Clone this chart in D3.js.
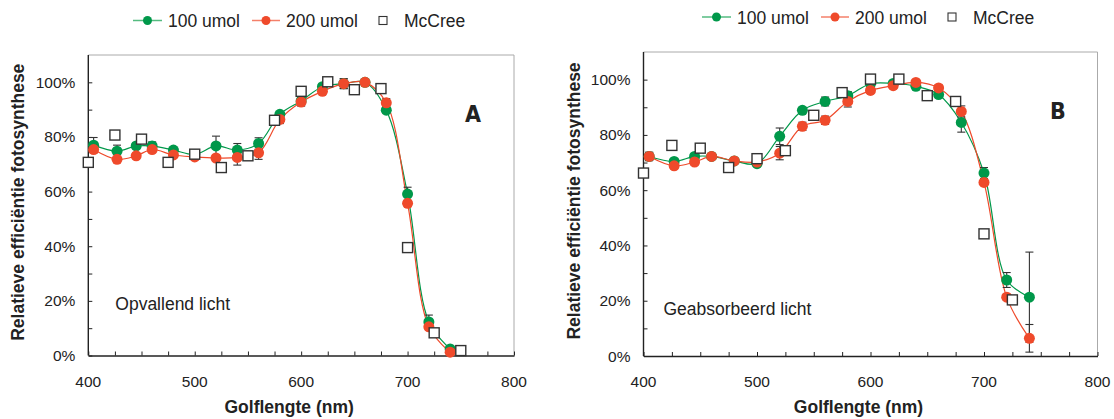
<!DOCTYPE html>
<html><head><meta charset="utf-8">
<script src="https://cdn.jsdelivr.net/npm/d3@7"></script>
<style>body{margin:0;background:#fff}svg{display:block;font-family:"Liberation Sans",Arial,sans-serif}</style>
</head><body><svg id="c" width="1114" height="419"></svg>
<script>
// ---- data ----
const wavelengths = [405, 427, 445, 460, 480, 500, 520, 540, 560, 580, 600, 620, 640, 660, 680, 700, 720, 740];
const mccreeWlA = [400, 425, 450, 475, 500, 525, 550, 575, 600, 625, 650, 675, 700, 725, 750];
const mccreeWlB = [400, 425, 450, 475, 500, 525, 550, 575, 600, 625, 650, 675, 700, 725];

const greenA = [77, 74.8, 76.7, 76.7, 75.2, 73.6, 76.7, 75.2, 77.6, 88.3, 93.2, 98.4, 99.5, 100, 89.8, 59.1, 12.3, 2.4];
const redA   = [75.4, 71.8, 73.1, 75.4, 73.4, 72.7, 72.3, 72.5, 74.2, 86.4, 92.8, 96.7, 99.5, 100, 92.5, 55.7, 10.5, 1.2];
const greenErrA = [2.8, 2.2, 1, 1.5, 0.5, 0.5, 3.6, 2.4, 2.1, 1, 1, 1, 1.8, 0.5, 1, 2.5, 2.5, 0.5];
const redErrA   = [1, 1, 1, 0.5, 0.5, 0.5, 1, 2.8, 2.4, 1.5, 1.5, 1, 1.8, 0.5, 1.5, 1, 1, 0.5];
const mccreeA = [70.7, 80.7, 79.2, 70.7, 73.7, 68.8, 73.1, 86.1, 96.7, 100.2, 97.3, 97.7, 39.5, 8.3, 1.8];

const greenB = [72.2, 70.4, 72.2, 72.2, 70.6, 69.6, 79.5, 88.9, 92.1, 94.2, 98.5, 98.6, 97.6, 94.6, 84.5, 66.2, 27.5, 21.3];
const redB   = [72.2, 68.8, 70.2, 72.2, 70.6, 70.2, 73.4, 83.1, 85.3, 92.1, 96.1, 97.8, 99, 97, 88.5, 62.8, 21.3, 6.4];
const greenErrB = [1.5, 1, 1, 0.5, 0.5, 0.5, 3, 1, 1.6, 1.5, 1, 1, 1, 1, 3.5, 2, 2.7, 16.3];
const redErrB   = [1.5, 1, 1, 0.5, 0.5, 0.5, 2.4, 1.5, 1.5, 2, 1, 1, 1, 1, 2, 1, 1, 5];
const mccreeB = [66.2, 76.2, 75.2, 68.2, 71.4, 74.3, 87.1, 95.3, 100.2, 100.2, 94.2, 92.1, 44.2, 20.3];

const seriesNames = ["100 umol", "200 umol", "McCree"];
const xTicks = [400, 500, 600, 700, 800];
const yTicks = [0, 20, 40, 60, 80, 100];
const xTitle = "Golflengte (nm)";
const yTitle = "Relatieve efficiëntie fotosynthese";

const GREEN = "#00984a", RED = "#ef4a2b", GREEN_L = "#55bb80", RED_L = "#f4806a";
const svg = d3.select("#c");

function panel(o) {
  const x = d3.scaleLinear().domain([400, 800]).range([o.x0, o.x1]);
  const y = d3.scaleLinear().domain([0, 110]).range([o.y0, o.y1]);
  const g = svg.append("g");
  // frame (gray top/right)
  g.append("line").attr("x1", o.x0).attr("x2", o.x1).attr("y1", o.y1).attr("y2", o.y1).attr("stroke", "#aaa").attr("stroke-width", 1);
  g.append("line").attr("x1", o.x1).attr("x2", o.x1).attr("y1", o.y1).attr("y2", o.y0).attr("stroke", "#aaa").attr("stroke-width", 1);
  // x axis
  const xa = g.append("g").attr("transform", `translate(0,${o.y0})`)
    .call(d3.axisBottom(x).tickValues(d3.range(400, 801, 25)).tickSizeInner(-4).tickSizeOuter(0).tickFormat(""));
  xa.select(".domain").attr("stroke", "#222").attr("stroke-width", 1.4);
  xa.selectAll(".tick line").attr("stroke", "#222");
  g.append("g").attr("transform", `translate(0,${o.y0})`)
    .selectAll("text").data(xTicks).join("text")
    .attr("x", d => x(d)).attr("y", 31).attr("text-anchor", "middle")
    .attr("font-size", 15.5).attr("fill", "#222").text(d => d);
  // y axis
  const ya = g.append("g").attr("transform", `translate(${o.x0},0)`)
    .call(d3.axisLeft(y).tickValues(d3.range(0, 101, 10)).tickSizeInner(-4).tickSizeOuter(0).tickFormat(""));
  ya.select(".domain").attr("stroke", "#222").attr("stroke-width", 1.4).attr("d", `M0,${o.y0}V${o.y1}`);
  ya.selectAll(".tick line").attr("stroke", "#222");
  g.selectAll(".ylab").data(yTicks).join("text")
    .attr("x", o.x0 - 13).attr("y", d => y(d) + 5.5).attr("text-anchor", "end")
    .attr("font-size", 15.5).attr("fill", "#222").text(d => d + "%");
  // titles
  g.append("text").attr("x", (o.x0 + o.x1) / 2 - 12).attr("y", o.y0 + 57).attr("text-anchor", "middle")
    .attr("font-size", 17.5).attr("font-weight", "bold").attr("fill", "#222").text(xTitle);
  g.append("text").attr("transform", `translate(${o.x0 - 64},${(o.y0 + o.y1) / 2 - 3}) rotate(-90)`)
    .attr("text-anchor", "middle").attr("font-size", 17.5).attr("font-weight", "bold").attr("fill", "#222").text(yTitle);
  // panel letter and note
  g.append("text").attr("x", o.letterX).attr("y", o.y1 + 67).attr("font-size", 23).attr("font-weight", "bold")
    .attr("font-family", "'DejaVu Sans Condensed','DejaVu Sans',sans-serif").attr("fill", "#222").text(o.letter);
  g.append("text").attr("x", o.x0 + o.noteDx).attr("y", o.noteY).attr("font-size", 17.5).attr("fill", "#222").text(o.note);

  const line = d3.line().x(d => x(d[0])).y(d => y(d[1])).curve(d3.curveCatmullRom.alpha(0.5));
  const gd = wavelengths.map((w, i) => [w, o.green[i], o.gErr[i]]);
  const rd = wavelengths.map((w, i) => [w, o.red[i], o.rErr[i]]);
  g.append("path").attr("d", line(gd)).attr("fill", "none").attr("stroke", GREEN).attr("stroke-width", 1.2);
  g.append("path").attr("d", line(rd)).attr("fill", "none").attr("stroke", RED).attr("stroke-width", 1.2);
  // error bars
  [gd, rd].forEach(arr => {
    const eb = g.append("g").attr("stroke", "#333").attr("stroke-width", 1.1);
    arr.filter(d => d[2] >= 0.8).forEach(d => {
      const cx = x(d[0]);
      eb.append("line").attr("x1", cx).attr("x2", cx).attr("y1", y(d[1] - d[2])).attr("y2", y(d[1] + d[2]));
      [d[1] - d[2], d[1] + d[2]].forEach(v => eb.append("line").attr("x1", cx - 4).attr("x2", cx + 4).attr("y1", y(v)).attr("y2", y(v)));
    });
  });
  g.append("g").selectAll("circle").data(gd).join("circle")
    .attr("cx", d => x(d[0])).attr("cy", d => y(d[1])).attr("r", 5.5).attr("fill", GREEN);
  g.append("g").selectAll("circle").data(rd).join("circle")
    .attr("cx", d => x(d[0])).attr("cy", d => y(d[1])).attr("r", 5.5).attr("fill", RED);
  g.append("g").selectAll("rect").data(o.mWl.map((w, i) => [w, o.mc[i]])).join("rect")
    .attr("x", d => x(d[0]) - 5).attr("y", d => y(d[1]) - 5).attr("width", 10).attr("height", 10)
    .attr("fill", "#fff").attr("stroke", "#333").attr("stroke-width", 1.4);

  // legend
  const lg = g.append("g").attr("transform", `translate(${o.legX},${o.legY})`);
  lg.append("line").attr("x1", 0).attr("x2", 29).attr("stroke", GREEN_L).attr("stroke-width", 1.5);
  lg.append("circle").attr("cx", 14.5).attr("r", 4.5).attr("fill", GREEN);
  lg.append("text").attr("x", 35).attr("y", 6.5).attr("font-size", 17.5).attr("fill", "#222").text(seriesNames[0]);
  lg.append("line").attr("x1", 119).attr("x2", 147).attr("stroke", RED_L).attr("stroke-width", 1.5);
  lg.append("circle").attr("cx", 133).attr("r", 4.5).attr("fill", RED);
  lg.append("text").attr("x", 153).attr("y", 6.5).attr("font-size", 17.5).attr("fill", "#222").text(seriesNames[1]);
  lg.append("rect").attr("x", 246).attr("y", -4).attr("width", 8).attr("height", 8).attr("fill", "#fff").attr("stroke", "#333").attr("stroke-width", 1.1);
  lg.append("text").attr("x", 271).attr("y", 6.5).attr("font-size", 17.5).attr("fill", "#222").text(seriesNames[2]);
}

panel({x0: 88.3, x1: 514, y0: 355.5, y1: 55, green: greenA, red: redA, gErr: greenErrA, rErr: redErrA,
  mWl: mccreeWlA, mc: mccreeA, letter: "A", letterX: 465, note: "Opvallend licht", noteDx: 27, noteY: 310, legX: 133, legY: 20.5});
panel({x0: 643.5, x1: 1097.5, y0: 356, y1: 52, green: greenB, red: redB, gErr: greenErrB, rErr: redErrB,
  mWl: mccreeWlB, mc: mccreeB, letter: "B", letterX: 1050, note: "Geabsorbeerd licht", noteDx: 20, noteY: 315, legX: 702, legY: 17});
</script></body></html>
